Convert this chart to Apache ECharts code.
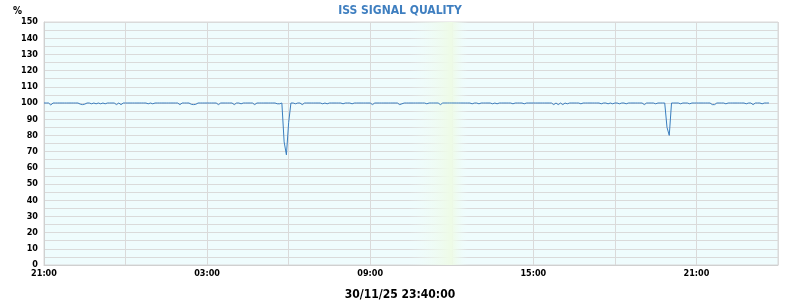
<!DOCTYPE html>
<html>
<head>
<meta charset="utf-8">
<script src="https://cdn.jsdelivr.net/npm/echarts@6/dist/echarts.min.js"></script>
<style>html,body{margin:0;padding:0;background:#fff}#c{width:800px;height:300px}</style>
</head>
<body>
<div id="c"></div>
<script>
// Signal quality (%), one sample every 5 minutes starting 29/11/25 21:00, ending 30/11/25 23:40
const stepMinutes = 5;
const quality = [
  100,100,100,98.8,100,100,100,100,100,100,100,100,
  100,100,100,100,99.3,99,99.3,100,100,99.5,100,99.5,
  100,99.5,100,99.5,100,100,100,100,99,100,99,100,
  100,100,100,100,100,100,100,100,100,100,99.5,100,
  99.5,100,100,100,100,100,100,100,100,100,100,100,
  99,100,100,100,100,99.2,99,99.2,100,100,100,100,
  100,100,100,100,100,99,100,100,100,100,100,100,
  99,100,100,99.5,100,100,100,100,100,99,100,100,
  100,100,100,100,100,100,100,99.5,99.5,100,76,68,
  88,100,100,99.5,100,100,99,100,100,100,100,100,
  100,100,100,99.5,100,99.5,100,100,100,100,100,100,
  99.5,100,100,100,99.5,100,100,100,100,100,100,100,
  100,99,100,100,100,100,100,100,100,100,100,100,
  100,99,99.5,100,100,100,100,100,100,100,100,100,
  100,99.5,100,100,100,100,100,99,100,100,100,100,
  100,100,100,100,100,100,100,100,100,99.5,100,100,
  99.5,100,100,100,100,100,99.5,100,99.5,100,100,100,
  100,100,100,99.5,100,100,100,100,99.5,100,100,100,
  100,100,100,100,100,100,100,100,100,99,100,99,
  100,99,100,99.5,100,100,100,100,100,99.5,100,100,
  100,100,100,100,100,100,99.5,100,100,99.5,100,99.5,
  100,100,99.5,100,100,99.5,100,100,100,100,100,100,
  100,99,100,100,100,100,99.5,100,100,100,100,85,
  80,100,100,100,100,99.5,100,100,100,99.5,100,100,
  100,100,100,100,100,100,100,99,99,100,100,100,
  100,99.5,100,100,100,100,100,100,100,100,99.5,100,
  100,99,100,100,100,99.5,100,100,100
];
// x axis: hours since 21:00, ticks every 3 hours
const xTickLabels = ['21:00','','03:00','','09:00','','15:00','','21:00',''];
const titleText = 'ISS SIGNAL QUALITY';
const unitText = '%';
const stampText = '30/11/25 23:40:00';
// highlighted band (hours since 21:00)
const bandHours = [13.4, 15.6];

const FONT = '"DejaVu Sans Condensed", "DejaVu Sans", sans-serif';
const seriesData = quality.map((v, i) => [i * stepMinutes / 60, v]);

const chart = echarts.init(document.getElementById('c'), null, {renderer: 'canvas'});
chart.setOption({
  backgroundColor: '#ffffff',
  animation: false,
  title: [
    {text: titleText, left: 'center', top: 0,
     textStyle: {color: '#3f7fc0', fontSize: 12, fontWeight: 'bold', fontFamily: FONT}},
    {text: unitText, left: 8, top: 1,
     textStyle: {color: '#000', fontSize: 10, fontWeight: 'bold', fontFamily: FONT}},
    {text: stampText, left: 'center', top: 284,
     textStyle: {color: '#000', fontSize: 12, fontWeight: 'bold', fontFamily: FONT}}
  ],
  grid: {left: 44, right: 22, top: 22, bottom: 35, show: true,
         backgroundColor: '#effcfd', borderColor: '#d8d8d8', borderWidth: 1},
  xAxis: {
    type: 'value', min: 0, max: 27, interval: 3,
    axisLine: {show: true, lineStyle: {color: '#d0d0d0'}},
    axisTick: {show: false},
    splitLine: {show: true, lineStyle: {color: '#dadada', width: 1}},
    axisLabel: {color: '#000', fontSize: 9, fontWeight: 'bold', fontFamily: FONT, margin: 4,
      formatter: v => xTickLabels[Math.round(v / 3)] || ''}
  },
  yAxis: {
    type: 'value', min: 0, max: 150, interval: 5,
    axisLine: {show: true, lineStyle: {color: '#d0d0d0'}},
    axisTick: {show: false},
    splitLine: {show: true, lineStyle: {color: '#dadada', width: 1}},
    axisLabel: {color: '#000', fontSize: 9, fontWeight: 'bold', fontFamily: FONT, margin: 6,
      formatter: v => (v % 10 === 0 ? String(v) : '')}
  },
  series: [{
    type: 'line',
    data: seriesData,
    showSymbol: false,
    symbol: 'none',
    lineStyle: {color: '#3a7ebf', width: 1},
    itemStyle: {color: '#3a7ebf'},
    z: 5,
    markArea: {
      silent: true,
      z: 1,
      itemStyle: {
        color: new echarts.graphic.LinearGradient(0, 0, 1, 0, [
          {offset: 0, color: 'rgba(239,252,253,0)'},
          {offset: 0.72, color: 'rgba(238,251,230,1)'},
          {offset: 1, color: 'rgba(239,252,253,0)'}
        ])
      },
      data: [[{xAxis: bandHours[0]}, {xAxis: bandHours[1]}]]
    }
  }]
});
</script>
</body>
</html>
